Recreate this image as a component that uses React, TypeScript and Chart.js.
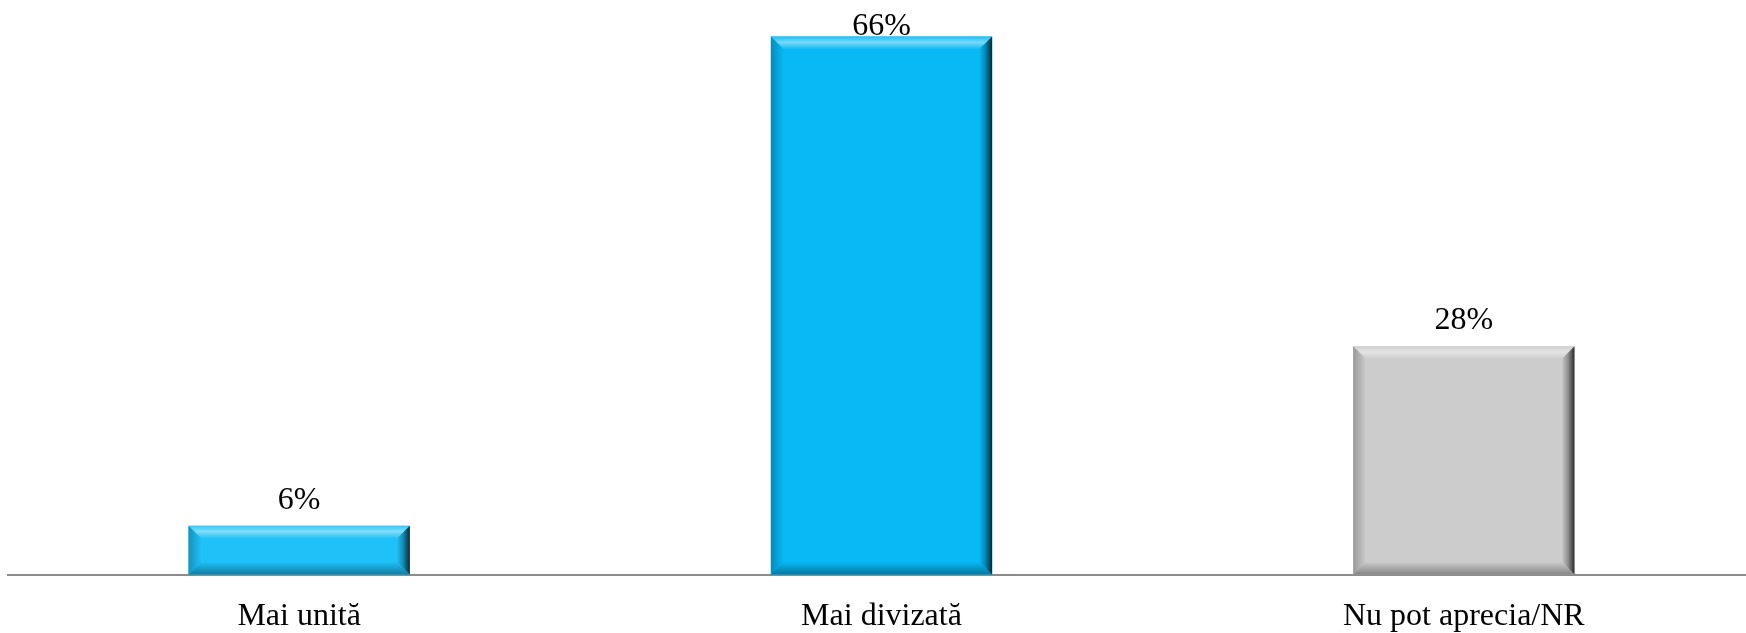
import React, { useEffect, useRef } from "react";
import { Chart, registerables } from "chart.js";

Chart.register(...registerables);

const categories = ["Mai unită", "Mai divizată", "Nu pot aprecia/NR"];
const values = [6, 66, 28];
const valueLabels = ["6%", "66%", "28%"];
const barColors = ["#1EC1F8", "#08B9F6", "#CCCCCC"];
const yMax = 70;

const FONT = "'Liberation Serif', 'Times New Roman', serif";

function hexToRgb(h: string) {
  const n = parseInt(h.slice(1), 16);
  return [(n >> 16) & 255, (n >> 8) & 255, n & 255];
}
function mix(h: string, target: number, t: number) {
  const c = hexToRgb(h);
  const r = c.map((v) => Math.round(v + (target - v) * t));
  return `rgb(${r[0]},${r[1]},${r[2]})`;
}

const bevelPlugin = {
  id: "bevel",
  afterDatasetsDraw(chart: any) {
    const ctx = chart.ctx;
    const meta = chart.getDatasetMeta(0);
    meta.data.forEach((bar: any, i: number) => {
      const base = barColors[i];
      const { x, y, width, base: bottom } = bar.getProps(["x", "y", "width", "base"], true);
      const L = x - width / 2;
      const R = x + width / 2;
      const T = y;
      const B = bottom;
      const b = Math.min(13, (B - T) / 2);
      ctx.save();
      // top
      let g = ctx.createLinearGradient(0, T, 0, T + b);
      g.addColorStop(0, mix(base, 255, 0.1));
      g.addColorStop(0.45, mix(base, 255, 0.45));
      g.addColorStop(1, base);
      ctx.fillStyle = g;
      ctx.beginPath();
      ctx.moveTo(L, T); ctx.lineTo(R, T); ctx.lineTo(R - b, T + b); ctx.lineTo(L + b, T + b); ctx.closePath();
      ctx.fill();
      // left
      g = ctx.createLinearGradient(L, 0, L + b, 0);
      g.addColorStop(0, mix(base, 0, 0.25));
      g.addColorStop(1, base);
      ctx.fillStyle = g;
      ctx.beginPath();
      ctx.moveTo(L, T); ctx.lineTo(L + b, T + b); ctx.lineTo(L + b, B - b); ctx.lineTo(L, B); ctx.closePath();
      ctx.fill();
      // bottom
      g = ctx.createLinearGradient(0, B - b, 0, B);
      g.addColorStop(0, base);
      g.addColorStop(1, mix(base, 0, 0.35));
      ctx.fillStyle = g;
      ctx.beginPath();
      ctx.moveTo(L, B); ctx.lineTo(L + b, B - b); ctx.lineTo(R - b, B - b); ctx.lineTo(R, B); ctx.closePath();
      ctx.fill();
      // right
      g = ctx.createLinearGradient(R - b, 0, R, 0);
      g.addColorStop(0, base);
      g.addColorStop(0.5, mix(base, 0, 0.3));
      g.addColorStop(1, mix(base, 0, 0.78));
      ctx.fillStyle = g;
      ctx.beginPath();
      ctx.moveTo(R, T); ctx.lineTo(R, B); ctx.lineTo(R - b, B - b); ctx.lineTo(R - b, T + b); ctx.closePath();
      ctx.fill();
      ctx.restore();
    });
  },
};

const labelPlugin = {
  id: "valueLabels",
  afterDraw(chart: any) {
    const ctx = chart.ctx;
    const meta = chart.getDatasetMeta(0);
    ctx.save();
    ctx.font = `32px ${FONT}`;
    ctx.fillStyle = "#000000";
    ctx.textAlign = "center";
    ctx.textBaseline = "alphabetic";
    meta.data.forEach((bar: any, i: number) => {
      const yy = Math.max(bar.y - 17, 35);
      ctx.fillText(valueLabels[i], bar.x, yy);
    });
    ctx.restore();
  },
};

export default function App() {
  const ref = useRef<HTMLCanvasElement | null>(null);
  useEffect(() => {
    if (!ref.current) return;
    const chart = new Chart(ref.current, {
      type: "bar",
      data: {
        labels: categories,
        datasets: [
          {
            data: values,
            backgroundColor: barColors,
            borderWidth: 0,
            barPercentage: 0.38,
            categoryPercentage: 1,
          },
        ],
      },
      options: {
        animation: false,
        responsive: false,
        maintainAspectRatio: false,
        layout: { padding: { left: 8, top: 4, right: 0, bottom: 0 } },
        plugins: { legend: { display: false }, tooltip: { enabled: false } },
        scales: {
          x: {
            grid: { display: false, drawTicks: false },
            border: { display: true, color: "#8c8c8c", width: 2 },
            ticks: { color: "#000000", padding: 23, font: { family: FONT, size: 32 } },
          },
          y: {
            display: false,
            min: 0,
            max: yMax,
            grid: { display: false },
          },
        },
      },
      plugins: [bevelPlugin, labelPlugin],
    });
    return () => chart.destroy();
  }, []);
  return (
    <div style={{ position: "fixed", left: 0, top: 0, width: 1746, height: 633, overflow: "hidden", background: "#fff" }}>
      <canvas ref={ref} width={1755} height={659} style={{ display: "block", width: 1755, height: 659 }} />
    </div>
  );
}
